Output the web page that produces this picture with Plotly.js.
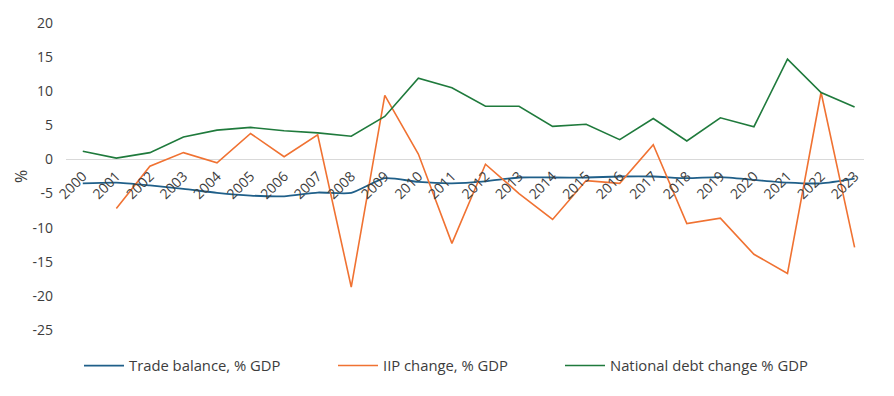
<!DOCTYPE html>
<html>
<head>
<meta charset="utf-8">
<script src="https://cdn.plot.ly/plotly-3.0.1.min.js"></script>
<style>html,body{margin:0;padding:0;background:#fff;}#chart{width:894px;height:396px;}</style>
</head>
<body>
<div id="chart"></div>
<script>
const years = ["2000","2001","2002","2003","2004","2005","2006","2007","2008","2009","2010","2011","2012","2013","2014","2015","2016","2017","2018","2019","2020","2021","2022","2023"];
const tradeBalance = [-3.5,-3.4,-3.8,-4.3,-4.9,-5.3,-5.4,-4.85,-4.9,-2.75,-3.3,-3.5,-3.2,-2.65,-2.65,-2.65,-2.5,-2.5,-2.75,-2.6,-3.0,-3.4,-3.5,-2.8];
const iipChange = [null,-7.2,-1.0,1.0,-0.5,3.8,0.4,3.6,-18.7,9.4,0.8,-12.3,-0.7,-5.0,-8.8,-3.1,-3.5,2.15,-9.4,-8.6,-13.9,-16.7,9.85,-12.9];
const debtChange = [1.2,0.2,1.0,3.3,4.3,4.7,4.2,3.9,3.4,6.3,11.9,10.5,7.8,7.8,4.85,5.15,2.9,6.0,2.7,6.1,4.8,14.7,9.8,7.7];
const yTicks = [20,15,10,5,0,-5,-10,-15,-20,-25];
const seriesNames = ["Trade balance, % GDP","IIP change, % GDP","National debt change % GDP"];

const font = {family: "Open Sans, sans-serif", size: 14, color: "#3d3d3d"};
const traces = [
  {x: years, y: tradeBalance, name: seriesNames[0], type: "scatter", mode: "lines",
   line: {color: "#1f5f89", width: 1.8, shape: "spline", smoothing: 0.6}, legend: "legend"},
  {x: years, y: iipChange, name: seriesNames[1], type: "scatter", mode: "lines",
   line: {color: "#f07232", width: 1.6}, legend: "legend2"},
  {x: years, y: debtChange, name: seriesNames[2], type: "scatter", mode: "lines",
   line: {color: "#1f7a3c", width: 1.6}, legend: "legend3"}
];
const legBase = {orientation: "h", yanchor: "middle", xanchor: "left", y: -0.117,
  font: {family: "Open Sans, sans-serif", size: 14.8, color: "#3d3d3d"}, bgcolor: "rgba(0,0,0,0)", itemwidth: 40};
const px = v => (v - 66) / 798;
const layout = {
  width: 894, height: 396,
  margin: {l: 66, r: 30, t: 23, b: 66},
  paper_bgcolor: "#fff", plot_bgcolor: "#fff",
  font: font,
  showlegend: true,
  legend: Object.assign({}, legBase, {x: px(79)}),
  legend2: Object.assign({}, legBase, {x: px(333)}),
  legend3: Object.assign({}, legBase, {x: px(560)}),
  xaxis: {type: "category", range: [-0.5, 23.28], anchor: "free", position: 25/45,
    showgrid: false, showline: false, zeroline: false, ticks: "", tickangle: -45,
    tickfont: font, ticklabelstandoff: 5, automargin: false},
  yaxis: {range: [-25, 20], tickvals: yTicks, ticktext: yTicks.map(String), showgrid: false,
    zeroline: true, zerolinecolor: "#d9d9d9", zerolinewidth: 1.5, showline: false, ticks: "",
    tickfont: font, ticklabelstandoff: 12, automargin: false,
    title: {text: "%", font: {family: "Open Sans, sans-serif", size: 16, color: "#3d3d3d"}, standoff: 0}}
};
Plotly.newPlot("chart", traces, layout, {staticPlot: true, displayModeBar: false});
</script>
</body>
</html>
